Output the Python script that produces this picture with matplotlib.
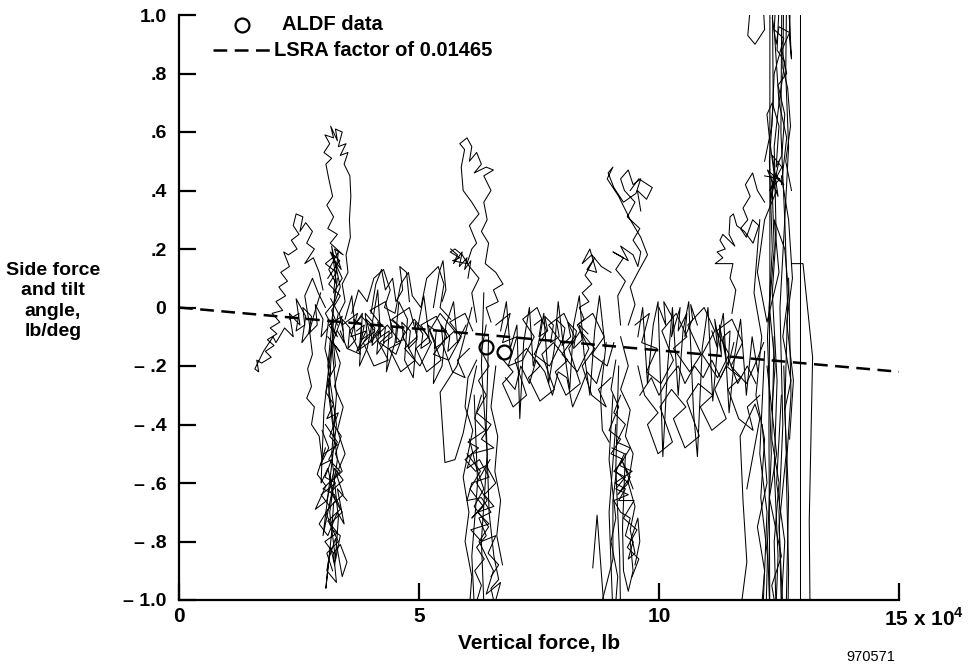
import numpy as np
import matplotlib
matplotlib.use('Agg')
import matplotlib.pyplot as plt
from matplotlib.lines import Line2D
import matplotlib.transforms as mtransforms

plt.rcParams['font.family'] = ['Liberation Sans', 'DejaVu Sans']
plt.rcParams['font.weight'] = 'bold'
plt.rcParams['mathtext.fontset'] = 'custom'
plt.rcParams['mathtext.rm'] = 'Liberation Sans:bold'
plt.rcParams['mathtext.bf'] = 'Liberation Sans:bold'

#LSRA time history traces, (vertical force 1e4 lb, side force/tilt lb/deg)
a_up = [(3.30,-0.06),(3.18,-0.01),(3.36,0.04),(3.12,0.08),(3.28,0.12),(3.05,0.15),(3.20,0.17),(3.38,0.13),
        (3.24,0.20),(3.42,0.18),(3.15,0.22),(3.30,0.25),(3.10,0.27),(3.22,0.31),(3.08,0.35),(3.20,0.38),
        (3.12,0.44),(3.06,0.49),(3.18,0.51),(3.02,0.53),(3.14,0.56),(3.04,0.59),(3.22,0.58),(3.16,0.62),
        (3.30,0.57),(3.26,0.61),(3.40,0.60),(3.32,0.55),(3.48,0.56),(3.36,0.52),(3.52,0.53),(3.44,0.49),
        (3.56,0.45),(3.58,0.38),(3.55,0.30),(3.57,0.24),(3.48,0.18),(3.52,0.12),(3.40,0.08),(3.46,0.02),
        (3.34,-0.02),(3.42,-0.08)]
a_knot = [(3.10,0.10),(3.35,0.16),(3.15,0.19),(3.40,0.10),(3.22,0.05),(3.32,0.19),(3.12,0.13),(3.28,0.08),
          (3.18,0.21),(3.36,0.07),(3.25,0.02),(3.05,-0.02),(3.30,-0.10),(3.12,-0.06),(3.40,-0.03),(3.20,-0.12),
          (3.35,-0.15),(3.10,-0.10)]
a_left = [(3.00,0.06),(2.92,0.12),(2.80,0.17),(2.62,0.15),(2.82,0.20),(2.66,0.22),(2.78,0.26),(2.64,0.29),
          (2.52,0.26),(2.58,0.31),(2.44,0.32),(2.38,0.28),(2.50,0.25),(2.34,0.23),(2.46,0.20),(2.28,0.18),
          (2.18,0.19),(2.30,0.14),(2.12,0.12),(2.26,0.09),(2.08,0.07),(2.22,0.04),(2.02,0.02),(2.16,-0.01),
          (1.94,-0.02),(2.10,-0.05),(1.90,-0.07),(2.04,-0.09),(1.84,-0.11),(1.98,-0.13),(1.80,-0.15),(1.92,-0.17),
          (1.72,-0.19),(1.62,-0.18),(1.66,-0.22),(1.58,-0.21),(1.76,-0.15),(1.96,-0.10),(2.02,-0.12),(2.20,-0.07),
          (2.38,-0.10),(2.30,-0.02),(2.52,-0.06),(2.44,0.03),(2.64,-0.03),(2.56,-0.12),(2.74,-0.08),(2.62,0.04),
          (2.78,0.10),(2.90,0.05),(3.05,0.00)]
a_band = [(2.30,-0.04),(2.50,-0.02),(2.44,-0.08),(2.62,-0.06),(2.58,0.00),(2.76,-0.03),(2.70,-0.09),(2.88,-0.06),
          (2.84,0.01),(3.00,-0.04),(2.96,-0.10),(3.10,-0.07)]
a_loop = [(2.95,0.05),(2.82,-0.02),(2.72,-0.08),(2.78,-0.16),(2.68,-0.21),(2.76,-0.27),(2.66,-0.31),(2.82,-0.34),
          (2.76,-0.40),(2.92,-0.44),(2.98,-0.52),(3.05,-0.48)]
a_low = [(3.12,-0.04),(3.04,-0.14),(3.16,-0.22),(3.06,-0.29),(3.22,-0.33),(3.08,-0.38),(3.32,-0.36),(3.14,-0.44),
         (3.30,-0.47),(3.02,-0.50),(2.88,-0.57),(3.06,-0.61),(2.84,-0.69),(3.08,-0.66),(3.24,-0.55),(3.42,-0.59),
         (3.16,-0.63),(3.36,-0.69),(3.10,-0.73),(3.30,-0.77),(3.04,-0.80),(3.22,-0.84),(3.36,-0.81),(3.50,-0.87),
         (3.40,-0.92),(3.26,-0.79),(3.12,-0.86),(3.06,-0.96),(3.18,-0.77),(3.22,-0.67),(3.42,-0.64),(3.28,-0.57),
         (3.46,-0.50),(3.30,-0.42),(3.42,-0.34),(3.24,-0.27),(3.36,-0.19),(3.20,-0.11),(3.32,-0.02),(3.16,0.03)]
a_low2 = [(3.22,-0.04),(3.12,-0.30),(3.30,-0.52),(3.14,-0.70),(3.26,-0.86),(3.32,-0.72),(3.18,-0.50),(3.28,-0.30),
          (3.18,-0.12),(3.02,-0.35),(2.96,-0.60),(3.10,-0.55),(3.20,-0.62),(3.00,-0.78),(3.15,-0.58),(3.28,-0.40),
          (3.10,-0.20),(3.25,0.05)]
a_col3 = [(3.30,0.10),(3.18,-0.05),(3.26,-0.20),(3.10,-0.25),(3.22,-0.40),(3.38,-0.44),(3.26,-0.50),(3.40,-0.56),
          (3.14,-0.60),(3.26,-0.66),(3.06,-0.70),(3.20,-0.76),(3.36,-0.78),(3.24,-0.88),(3.16,-0.82),(3.08,-0.90),
          (3.28,-0.94),(3.22,-0.84)]
a_col4 = [(2.98,-0.42),(3.12,-0.48),(2.94,-0.54),(3.18,-0.52),(3.04,-0.58),(3.26,-0.60),(2.96,-0.64),(3.14,-0.68),
          (2.92,-0.74),(3.10,-0.78),(3.30,-0.70),(3.44,-0.74),(3.30,-0.62),(3.50,-0.66)]
a_col5 = [(3.05,-0.40),(3.30,-0.46),(3.12,-0.52),(3.36,-0.56),(3.00,-0.62),(3.24,-0.64),(3.40,-0.70),(3.14,-0.74),
          (3.32,-0.80),(3.08,-0.84),(3.20,-0.90)]
band_1 = [(3.40,-0.06),(3.72,-0.02),(3.58,-0.10),(3.90,-0.08),(3.70,-0.15),(3.96,-0.12),(4.22,-0.06),(3.98,-0.01),
          (4.30,0.02),(4.46,-0.08),(4.18,-0.12),(4.52,-0.16),(4.70,-0.08),(4.44,-0.04),(4.80,0.00),(4.96,-0.10),
          (4.70,-0.14),(5.02,-0.20),(5.26,-0.12),(5.04,-0.06),(5.36,-0.03),(5.58,-0.10),(5.30,-0.16),(5.62,-0.18),
          (5.88,-0.10),(5.64,-0.05),(5.96,-0.02),(6.12,-0.08)]
band_1b = [(6.05,-0.14),(5.80,-0.18),(5.96,-0.24),(5.70,-0.22),(5.48,-0.12),(5.74,-0.08),(5.44,-0.02),(5.22,-0.08),
           (5.46,-0.18),(5.16,-0.22),(4.94,-0.14),(5.20,-0.10),(4.90,-0.04),(4.66,-0.10),(4.92,-0.18),(4.62,-0.22),
           (4.38,-0.14),(4.62,-0.12),(4.34,-0.06),(4.10,-0.10),(4.36,-0.18),(4.06,-0.20),(3.84,-0.12),(4.08,-0.08),
           (3.80,-0.03),(3.56,-0.08),(3.78,-0.16),(3.50,-0.14),(3.36,-0.08)]
band_1c = [(3.46,-0.04),(3.60,0.04),(3.66,-0.06),(3.82,-0.02),(3.76,-0.20),(3.92,-0.14),(4.04,-0.04),(4.14,0.06),
           (4.20,-0.10),(4.38,-0.08),(4.32,-0.22),(4.50,-0.12),(4.58,0.02),(4.76,-0.04),(4.70,-0.18),(4.88,-0.24),
           (4.96,-0.08),(5.10,0.04),(5.18,-0.06),(5.34,-0.12),(5.30,-0.26),(5.48,-0.20),(5.56,-0.06),(5.72,0.02),
           (5.80,-0.12),(5.98,-0.06)]
band_1d = [(3.60,-0.02),(3.74,0.06),(3.92,0.02),(4.06,0.10),(4.26,0.13),(4.40,0.06),(4.28,0.00),(4.50,-0.02),
           (4.62,0.08),(4.78,0.12),(4.86,0.04),(5.04,0.00),(5.16,0.10),(5.40,0.14),(5.52,0.08),(5.44,0.00),(5.66,-0.04)]
band_1e = [(3.70,-0.08),(3.86,-0.06),(3.80,-0.11),(3.98,-0.09),(3.90,-0.04),(4.08,-0.07),(4.02,-0.13),(4.20,-0.10),
           (4.14,-0.05),(4.30,-0.07),(4.26,-0.12),(4.44,-0.10),(4.40,-0.04),(4.56,-0.06),(4.52,-0.12),(4.68,-0.11),
           (4.64,-0.05),(4.82,-0.08),(4.78,-0.14),(4.96,-0.11),(4.92,-0.05),(5.08,-0.09),(5.04,-0.14),(5.22,-0.12),
           (5.18,-0.06),(5.36,-0.08),(5.32,-0.14),(5.50,-0.12),(5.46,-0.06),(5.64,-0.10),(5.60,-0.15),(5.78,-0.12)]
band_1f = [(4.00,-0.02),(4.10,0.08),(4.22,0.13),(4.30,0.06),(4.45,0.10),(4.52,0.02),(4.66,0.06),(4.60,0.14),
           (4.74,0.12),(4.80,0.02)]
band_1g = [(5.30,0.00),(5.42,0.12),(5.50,0.16),(5.56,0.06),(5.48,0.02)]
band_1h = [(3.30,-0.08),(3.44,-0.12),(3.40,-0.04),(3.56,-0.07),(3.52,-0.14),(3.68,-0.11),(3.64,-0.04),(3.80,-0.06),
           (3.76,-0.14),(3.92,-0.10),(3.88,-0.02),(4.04,-0.05),(4.00,-0.12),(4.16,-0.08),(4.12,-0.16),(4.28,-0.12)]
b_up = [(6.20,-0.05),(6.10,0.05),(6.25,0.10),(6.05,0.14),(5.90,0.18),(5.75,0.20),(5.65,0.19),(5.85,0.17),
        (5.70,0.16),(6.00,0.15),(6.10,0.20),(6.20,0.22),(6.05,0.28),(6.25,0.32),(6.10,0.36),(5.92,0.40),
        (5.88,0.48),(5.95,0.54),(5.85,0.56),(6.00,0.58),(6.10,0.55),(6.05,0.50),(6.20,0.53),(6.30,0.49),
        (6.15,0.46),(6.40,0.48),(6.55,0.47),(6.35,0.45),(6.50,0.40),(6.35,0.36),(6.42,0.30),(6.30,0.26),
        (6.45,0.22),(6.38,0.15),(6.60,0.12),(6.75,0.08),(6.55,0.06),(6.65,0.02),(6.40,0.00),(6.50,-0.05)]
b_knot = [(5.66,0.20),(5.80,0.18),(5.72,0.15),(5.90,0.19),(5.84,0.14),(6.00,0.17),(5.95,0.13),(6.08,0.16),(6.02,0.10)]
b_loop = [(6.10,0.00),(5.95,-0.10),(5.79,-0.20),(5.44,-0.29),(5.54,-0.53),(5.75,-0.52),(5.92,-0.43),(6.05,-0.32),(6.20,-0.20)]
b_low = [(6.40,-0.06),(6.30,-0.15),(6.46,-0.20),(6.24,-0.25),(6.40,-0.30),(6.20,-0.36),(6.50,-0.40),(6.30,-0.45),
         (6.56,-0.48),(6.10,-0.50),(6.00,-0.55),(6.26,-0.52),(6.46,-0.58),(6.10,-0.60),(6.00,-0.66),(6.30,-0.65),
         (6.50,-0.70),(6.25,-0.72),(6.40,-0.78),(6.20,-0.82),(6.36,-0.86),(6.16,-0.90),(6.30,-0.95),(6.12,-1.05)]
b_low2 = [(6.35,0.05),(6.30,-0.20),(6.42,-0.50),(6.30,-0.80),(6.36,-1.05)]
b_low3 = [(6.45,-0.10),(6.40,-0.40),(6.46,-0.70),(6.56,-0.85),(6.66,-0.93),(6.50,-0.96),(6.62,-1.05)]
b_low4 = [(6.15,-0.30),(6.22,-0.60),(6.10,-0.85),(6.16,-1.05)]
b_low5 = [(6.05,-0.45),(6.20,-0.55),(6.35,-0.62),(6.15,-0.68),(6.45,-0.75),(6.25,-0.80),(6.55,-0.90),(6.40,-0.98),
          (6.70,-0.94),(6.60,-1.00)]
b_col6 = [(6.30,-0.30),(6.16,-0.38),(6.38,-0.42),(6.02,-0.46),(6.24,-0.48),(5.96,-0.52),(6.18,-0.56),(6.40,-0.54),
          (6.60,-0.60),(6.36,-0.64),(6.56,-0.68),(6.22,-0.70),(6.46,-0.74),(6.08,-0.76),(6.30,-0.80),(6.60,-0.78),
          (6.44,-0.84),(6.66,-0.88),(6.50,-0.92)]
b_col7 = [(6.20,-0.18),(6.02,-0.24),(5.96,-0.34),(6.12,-0.42),(5.92,-0.58),(6.04,-0.70),(5.96,-0.80),(6.10,-0.92),(6.04,-1.05)]
b_col8 = [(6.60,-0.20),(6.50,-0.34),(6.64,-0.44),(6.58,-0.56),(6.70,-0.66),(6.62,-0.78),(6.74,-0.88)]
b_col9 = [(6.00,-0.50),(6.28,-0.56),(6.06,-0.62),(6.34,-0.68),(6.10,-0.72),(6.42,-0.66),(6.20,-0.60),(6.48,-0.52)]
band_2 = [(6.60,-0.06),(6.90,-0.02),(6.74,-0.12),(7.04,-0.10),(6.86,-0.20),(7.16,-0.18),(7.40,-0.10),(7.16,-0.04),
          (7.46,0.00),(7.66,-0.08),(7.40,-0.16),(7.72,-0.20),(7.96,-0.12),(7.70,-0.06),(8.02,-0.02),(8.24,-0.10),
          (7.98,-0.16),(8.30,-0.22),(8.54,-0.14),(8.30,-0.06),(8.62,-0.02),(8.86,-0.10),(8.60,-0.16),(8.92,-0.20),
          (9.06,-0.12)]
band_2b = [(9.00,-0.24),(8.74,-0.28),(8.90,-0.34),(8.60,-0.30),(8.40,-0.20),(8.66,-0.14),(8.36,-0.08),(8.12,-0.14),
           (8.36,-0.26),(8.06,-0.30),(7.84,-0.22),(8.10,-0.18),(7.80,-0.12),(7.56,-0.16),(7.82,-0.28),(7.52,-0.32),
           (7.28,-0.24),(7.52,-0.20),(7.24,-0.14),(7.00,-0.18),(7.24,-0.30),(6.96,-0.34),(6.74,-0.26),(6.96,-0.22),
           (6.66,-0.16)]
band_2c = [(6.70,-0.08),(6.82,0.02),(6.90,-0.14),(7.04,-0.06),(7.10,-0.38),(7.18,-0.12),(7.30,0.00),(7.38,-0.20),
           (7.52,-0.10),(7.60,-0.02),(7.70,-0.26),(7.82,-0.14),(7.90,0.02),(8.00,-0.12),(8.14,-0.28),(8.22,-0.06),
           (8.34,0.04),(8.44,-0.16),(8.56,-0.30),(8.66,-0.08),(8.76,0.04),(8.88,-0.14)]
band_2d = [(7.40,-0.06),(7.56,-0.04),(7.50,-0.10),(7.68,-0.08),(7.62,-0.03),(7.80,-0.06),(7.74,-0.12),(7.92,-0.10),
           (7.86,-0.04),(8.04,-0.07),(7.98,-0.13),(8.16,-0.10),(8.10,-0.05),(8.28,-0.08),(8.22,-0.14),(8.40,-0.11),
           (8.34,-0.06),(8.52,-0.09)]
band_2e = [(6.80,-0.24),(7.00,-0.28),(7.12,-0.20),(7.30,-0.26),(7.44,-0.18),(7.62,-0.22),(7.78,-0.30),(7.90,-0.22),
           (8.08,-0.24),(8.20,-0.34),(8.36,-0.28),(8.50,-0.22),(8.70,-0.26),(8.84,-0.18)]
c_up = [(9.20,-0.06),(9.14,0.04),(9.30,0.09),(9.10,0.13),(9.26,0.17),(9.04,0.19),(9.36,0.16),(9.20,0.21),
        (9.46,0.18),(9.56,0.14),(9.62,0.19),(9.46,0.23),(9.60,0.27),(9.34,0.31),(9.50,0.36),(9.28,0.40),
        (9.20,0.44),(9.36,0.47),(9.46,0.42),(9.62,0.44),(9.52,0.39),(9.26,0.36),(9.06,0.41),(8.94,0.46),
        (9.04,0.48),(8.92,0.44),(9.16,0.38),(9.40,0.30),(9.62,0.24),(9.76,0.18),(9.56,0.12),(9.40,0.07),
        (9.50,0.01),(9.36,-0.06)]
c_top = [(9.40,0.40),(9.58,0.44),(9.86,0.41),(9.74,0.37),(9.55,0.40),(9.62,0.33)]
c_left = [(9.00,0.12),(8.80,0.14),(8.60,0.18),(8.40,0.15),(8.56,0.20),(8.70,0.12),(8.50,0.13),(8.66,0.17),
          (8.46,0.11),(8.60,0.08),(8.40,0.05),(8.54,0.02),(8.34,0.00),(8.44,-0.04),(8.30,-0.06)]
c_side = [(8.90,-0.12),(8.78,-0.30),(8.82,-0.42),(8.96,-0.46)]
c_low = [(9.10,-0.18),(9.00,-0.28),(9.16,-0.34),(8.96,-0.42),(9.20,-0.45),(9.00,-0.50),(9.26,-0.52),(9.06,-0.56),
         (9.30,-0.58),(9.10,-0.62),(9.36,-0.64),(9.06,-0.66),(9.20,-0.70),(9.40,-0.72),(9.30,-0.78),(9.46,-0.80),
         (9.36,-0.86),(9.50,-0.84),(9.40,-0.76),(9.50,-0.68),(9.36,-0.60),(9.46,-0.50),(9.30,-0.44),(9.40,-0.35),
         (9.20,-0.28),(9.36,-0.20),(9.20,-0.10)]
c_low2 = [(9.10,-0.40),(8.96,-0.70),(9.04,-1.05)]
c_low3 = [(9.30,-0.50),(9.24,-0.75),(9.26,-0.90),(9.36,-0.97),(9.46,-0.90),(9.40,-0.80),(9.56,-0.72),(9.60,-0.80),(9.50,-0.88)]
c_low4 = [(9.16,-0.20),(9.10,-0.55),(9.18,-0.85),(9.20,-1.05)]
c_col5 = [(9.20,-0.30),(9.06,-0.36),(9.30,-0.40),(9.12,-0.46),(9.40,-0.48),(9.18,-0.54),(9.44,-0.56),(9.08,-0.60),
          (9.30,-0.62),(9.16,-0.66),(9.48,-0.66),(9.26,-0.72),(9.54,-0.76),(9.34,-0.82),(9.58,-0.86),(9.44,-0.92)]
c_col6 = [(9.04,-0.30),(8.96,-0.52),(9.10,-0.72),(9.00,-0.80),(9.14,-0.92),(9.08,-1.05)]
c_col7 = [(9.02,-0.48),(9.28,-0.50),(9.10,-0.56),(9.36,-0.60),(9.14,-0.64),(9.40,-0.58),(9.22,-0.52),(9.46,-0.62)]
c_spike = [(8.62,-0.89),(8.71,-0.71),(8.85,-1.02)]
c_spike2 = [(8.79,-1.02),(9.04,-0.86),(9.04,-0.66),(9.12,-0.55)]
band_3 = [(9.50,-0.06),(9.80,-0.02),(9.64,-0.12),(9.96,-0.14),(9.74,-0.22),(10.04,-0.26),(10.30,-0.18),(10.06,-0.08),
          (10.36,-0.02),(10.58,-0.10),(10.30,-0.14),(10.64,-0.22),(10.88,-0.16),(10.60,-0.06),(10.94,0.00),(11.16,-0.08),
          (10.90,-0.16),(11.22,-0.24),(11.46,-0.16),(11.20,-0.08),(11.52,-0.04),(11.74,-0.12),(11.50,-0.20),(11.82,-0.26),
          (12.04,-0.18),(12.18,-0.12)]
band_3b = [(12.10,-0.30),(11.84,-0.34),(11.96,-0.42),(11.66,-0.38),(11.44,-0.28),(11.70,-0.24),(11.40,-0.20),(11.16,-0.28),
           (11.40,-0.38),(11.10,-0.42),(10.86,-0.34),(11.12,-0.30),(10.82,-0.26),(10.58,-0.32),(10.84,-0.44),(10.54,-0.48),
           (10.30,-0.38),(10.56,-0.34),(10.26,-0.28),(10.02,-0.34),(10.28,-0.46),(9.98,-0.50),(9.76,-0.40),(9.98,-0.36),
           (9.70,-0.30),(9.56,-0.20)]
band_3c = [(9.56,-0.10),(9.66,0.00),(9.76,-0.26),(9.88,-0.06),(9.98,0.02),(10.08,-0.51),(10.18,-0.20),(10.28,0.00),
           (10.40,-0.30),(10.50,-0.08),(10.62,0.02),(10.72,-0.36),(10.80,-0.51),(10.90,-0.14),(11.02,0.00),(11.12,-0.32),
           (11.24,-0.10),(11.34,-0.02),(11.46,-0.36),(11.58,-0.16),(11.70,-0.04),(11.82,-0.30),(11.94,-0.10),(12.06,-0.22)]
band_3d = [(10.00,0.00),(10.14,-0.06),(10.10,0.02),(10.30,-0.04),(10.26,-0.10),(10.44,0.00),(10.40,-0.08),(10.58,-0.02),
           (10.54,-0.10),(10.70,-0.04),(10.66,0.01),(10.80,-0.06)]
band_3e = [(11.10,-0.08),(11.22,-0.14),(11.16,-0.04),(11.30,-0.16),(11.26,-0.06),(11.40,-0.18),(11.34,-0.10),(11.48,-0.08),
           (11.44,-0.20),(11.56,-0.12)]
band_3f = [(9.60,-0.30),(9.84,-0.24),(10.00,-0.30),(10.20,-0.24),(10.40,-0.20),(10.54,-0.26),(10.74,-0.20),(10.92,-0.24),
           (11.10,-0.18),(11.28,-0.24),(11.46,-0.18),(11.64,-0.26),(11.84,-0.20),(12.02,-0.26)]
d_v1 = [(12.31,1.10),(12.31,0.10),(12.29,-0.40),(12.31,-1.10)]
d_v2 = [(12.94,1.10),(12.94,-1.10)]
d_v3 = [(12.78,0.15),(13.00,0.15),(13.20,-0.17),(13.13,-0.73),(13.15,-1.10)]
d_top = [(12.42,0.43),(12.30,0.58),(12.25,0.66),(12.36,0.70),(12.50,0.62),(12.44,0.48),(12.56,0.52),(12.62,0.66),
         (12.48,0.76),(12.66,0.80),(12.56,0.88),(12.72,0.94),(12.50,0.96),(12.44,0.90),(12.36,0.99),(12.48,1.10)]
d_top2 = [(12.20,0.50),(12.35,0.62),(12.40,0.80),(12.60,0.92),(12.40,0.95),(12.45,1.10)]
d_top3 = [(11.94,1.10),(11.85,0.93),(12.00,0.90),(12.20,0.95),(12.15,1.10)]
d_top4 = [(12.60,1.10),(12.58,0.82),(12.68,0.75),(12.74,0.62),(12.64,0.50),(12.76,0.40)]
d_top5 = [(12.52,1.10),(12.46,0.88),(12.62,0.84),(12.50,0.70),(12.66,0.58),(12.55,0.42)]
d_top6 = [(12.74,1.10),(12.72,0.92),(12.76,0.85),(12.68,1.10)]
d_knot = [(12.20,0.45),(12.52,0.44),(12.30,0.40),(12.56,0.48),(12.36,0.52),(12.48,0.38),(12.26,0.47),(12.60,0.42),
          (12.40,0.46),(12.32,0.36),(12.50,0.50)]
d_left = [(12.20,0.36),(12.05,0.40),(11.95,0.46),(11.80,0.42),(11.90,0.38),(11.75,0.34),(11.85,0.30),(11.70,0.27),
          (11.82,0.24),(11.95,0.30),(12.08,0.28),(11.96,0.22),(11.78,0.26),(11.62,0.28),(11.55,0.32),(11.48,0.31),
          (11.46,0.25),(11.58,0.21),(11.33,0.25),(11.27,0.23),(11.38,0.20),(11.21,0.19),(11.33,0.17),(11.17,0.15),
          (11.54,0.15),(11.48,0.10),(11.60,0.06),(11.52,-0.02)]
d_mid = [(12.45,0.40),(12.20,0.30),(12.05,0.12),(12.25,-0.05),(12.50,0.12),(12.40,0.30),(12.62,0.20),(12.70,0.05),
         (12.58,-0.10),(12.75,-0.25),(12.62,-0.35)]
d_mid2 = [(12.55,0.45),(12.70,0.30),(12.78,0.10),(12.66,-0.05),(12.80,-0.25),(12.72,-0.45)]
d_mid3 = [(12.35,0.45),(12.40,0.20),(12.30,0.00),(12.42,-0.20),(12.35,-0.35)]
d_low1 = [(12.20,-0.15),(12.10,-0.50),(12.25,-0.70),(12.15,-1.10)]
d_low2 = [(12.40,-0.10),(12.35,-0.45),(12.50,-0.60),(12.40,-0.80),(12.45,-1.10)]
d_low3 = [(12.60,-0.20),(12.65,-0.50),(12.50,-0.75),(12.60,-1.10)]
d_low4 = [(12.70,0.10),(12.75,-0.30),(12.65,-0.55),(12.70,-0.90),(12.68,-1.10)]
d_low5 = [(11.65,-1.10),(11.83,-0.87),(11.75,-0.66),(11.69,-0.44),(12.00,-0.33),(12.10,-0.38),(11.83,-0.62)]
d_low6 = [(12.25,-0.20),(12.45,-0.50),(12.30,-0.65),(12.55,-0.85),(12.35,-0.95),(12.50,-1.10)]
d_low7 = [(12.15,-0.40),(12.25,-0.60),(12.05,-0.75),(12.20,-0.90),(12.10,-1.10)]
d_low8 = [(12.55,-0.30),(12.45,-0.60),(12.62,-0.80),(12.52,-1.10)]
d_s1 = [(12.36,1.10),(12.38,0.70),(12.30,0.50),(12.36,0.20),(12.26,-0.10),(12.34,-0.50),(12.26,-0.80),(12.32,-1.10)]
d_s2 = [(12.56,1.10),(12.54,0.60),(12.62,0.30),(12.52,0.00),(12.58,-0.40),(12.50,-0.70),(12.56,-1.10)]
d_s3 = [(12.66,1.10),(12.64,0.80),(12.70,0.55),(12.62,0.30),(12.68,0.00),(12.62,-0.35),(12.70,-0.65),(12.64,-1.10)]
d_s4 = [(12.40,0.95),(12.50,0.70),(12.40,0.55),(12.44,0.25),(12.36,0.05),(12.46,-0.25),(12.40,-0.55),(12.48,-0.85),(12.42,-1.10)]
d_diag = [(12.10,0.30),(11.98,0.05),(12.14,-0.10),(12.02,-0.30),(12.20,-0.45),(12.12,-0.65),(12.26,-0.85),(12.22,-1.10)]

traces = [a_up, a_knot, a_left, a_band, a_loop, a_low, a_low2, a_col3, a_col4, a_col5,
          band_1, band_1b, band_1c, band_1d, band_1e, band_1f, band_1g, band_1h,
          b_up, b_knot, b_loop, b_low, b_low2, b_low3, b_low4, b_low5, b_col6, b_col7, b_col8, b_col9,
          band_2, band_2b, band_2c, band_2d, band_2e,
          c_up, c_top, c_left, c_side, c_low, c_low2, c_low3, c_low4, c_col5, c_col6, c_col7, c_spike, c_spike2,
          band_3, band_3b, band_3c, band_3d, band_3e, band_3f,
          d_v1, d_v2, d_v3, d_top, d_top2, d_top3, d_top4, d_top5, d_top6, d_knot, d_left,
          d_mid, d_mid2, d_mid3, d_low1, d_low2, d_low3, d_low4, d_low5, d_low6, d_low7, d_low8,
          d_s1, d_s2, d_s3, d_s4, d_diag]

#ALDF points and LSRA factor
aldf_x = [6.40, 6.77]
aldf_y = [-0.135, -0.152]
lsra_factor = 0.01465
lsra_x = np.array([0.0, 15.0])

yticks = [1.0, 0.8, 0.6, 0.4, 0.2, 0.0, -0.2, -0.4, -0.6, -0.8, -1.0]
ylabels = ['1.0', '.8', '.6', '.4', '.2', '0', '\u2013 .2', '\u2013 .4', '\u2013 .6', '\u2013 .8', '\u2013 1.0']
xticks = [0, 5, 10, 15]
xlabels = ['0', '5', '10', '15 x 10$^4$']

fig = plt.figure(figsize=(9.7,6.67), dpi=100)
ax = fig.add_axes([179/970, 67/667, 720/970, 585/667])

for t in traces:
    xs, ys = zip(*t)
    ax.plot(xs, ys, color='k', linewidth=0.75)

dash = (5.5, 3)
ax.plot(lsra_x, -lsra_factor*lsra_x, color='k', linestyle='--', linewidth=1.8, dashes=dash)
ax.plot(aldf_x, aldf_y, linestyle='none', marker='o', markersize=10, markerfacecolor='none',
        markeredgecolor='k', markeredgewidth=1.6)

ax.set_xlim(0, 15)
ax.set_ylim(-1, 1)
for s in ['top', 'right']:
    ax.spines[s].set_visible(False)
for s in ['left', 'bottom']:
    ax.spines[s].set_linewidth(1.6)

ax.set_yticks(yticks)
ax.set_yticklabels(ylabels, fontsize=14, fontweight='bold')
ax.set_xticks(xticks)
ax.set_xticklabels(xlabels, fontsize=15, fontweight='bold')
ax.tick_params(direction='in', length=12, width=1.6)
ax.tick_params(axis='y', pad=9)
ax.tick_params(axis='x', pad=5)
last = ax.get_xticklabels()[-1]
last.set_horizontalalignment('left')
last.set_transform(last.get_transform() + mtransforms.ScaledTranslation(-15/100, 0, fig.dpi_scale_trans))

ax.set_xlabel('Vertical force, lb', fontsize=15, fontweight='bold', labelpad=3)
fig.text(53/970, 1-301/667, 'Side force\nand tilt\nangle,\nlb/deg', ha='center', va='center',
         fontsize=14, fontweight='bold', linespacing=1.25)
fig.text(871/970, 1-657/667, '970571', ha='center', va='center', fontsize=10.5, fontweight='normal')

#legend drawn in figure pixels
fig.add_artist(Line2D([242/970], [1-25/667], linestyle='none', marker='o', markersize=10,
                      markerfacecolor='none', markeredgecolor='k', markeredgewidth=1.6))
fig.add_artist(Line2D([213/970, 271/970], [1-50/667, 1-50/667], color='k', linestyle='--',
                      linewidth=1.8, dashes=dash))
fig.text(282/970, 1-25/667, 'ALDF data', ha='left', va='center', fontsize=14.5, fontweight='bold')
fig.text(274/970, 1-50/667, 'LSRA factor of 0.01465', ha='left', va='center', fontsize=14.5, fontweight='bold')

fig.savefig('out.png', dpi=100)
